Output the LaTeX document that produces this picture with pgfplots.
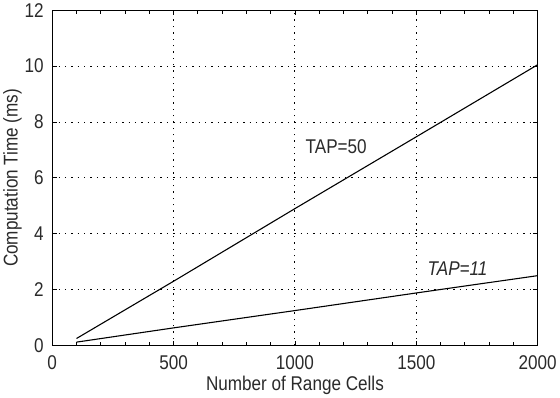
\documentclass[border=0pt]{standalone}
\usepackage{fontspec}
\setmainfont{Liberation Sans}
\newfontfamily\rfont[FakeStretch=0.86]{Liberation Sans}
\usepackage{pgfplots}
\pgfplotsset{compat=1.18}

\definecolor{txt}{HTML}{2a2a2a}

\begin{document}
\begin{tikzpicture}
\begin{axis}[
    scale only axis,
    width=488pt, height=337pt,
    xmin=0, xmax=2000,
    ymin=0, ymax=12,
    xtick={0,500,...,2000},
    ytick={0,2,...,12},
    minor x tick num=4,
    tick align=inside,
    major tick length=5pt,
    minor tick length=4pt,
    xmajorgrids, ymajorgrids,
    grid style={black, line width=0.9pt, dash pattern=on 1.4pt off 5pt},
    axis line style={line width=1pt},
    tick style={black, line width=0.8pt},
    font=\rfont\fontsize{20}{23}\selectfont,
    /pgf/number format/assume math mode=true,
    /pgf/number format/set thousands separator={},
    ticklabel style={text=txt},
    xticklabel style={yshift=-7pt},
    yticklabel style={xshift=-5pt},
    xlabel={Number of Range Cells},
    ylabel={Computation Time (ms)},
    label style={text=txt},
    xlabel style={yshift=1pt},
    ylabel style={yshift=-4pt},
    clip=false,
]
\addplot[black, line width=1.1pt] coordinates {
    (100,0.25) (500,2.30) (1000,4.90) (1500,7.47) (2000,10.05)
};
\addplot[black, line width=1.1pt] coordinates {
    (100,0.12) (500,0.63) (1000,1.25) (1500,1.88) (2000,2.50)
};
\node[text=txt, font=\rfont\fontsize{20}{23}\selectfont] at (axis cs:1170,7.1) {TAP=50};
\node[text=txt, font=\rfont\itshape\fontsize{20}{23}\selectfont] at (axis cs:1670,2.75) {TAP=11};
\end{axis}
\end{tikzpicture}
\end{document}
